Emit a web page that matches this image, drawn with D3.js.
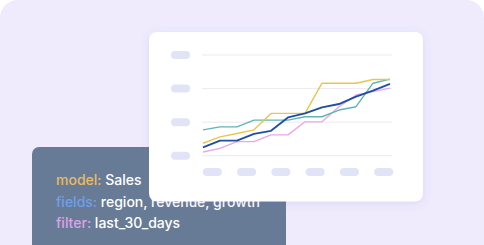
<!DOCTYPE html>
<html lang="en">
<head>
<meta charset="utf-8">
<title>Sales trend card</title>
<script src="https://cdn.jsdelivr.net/npm/d3@7"></script>
<style>
  html, body { margin: 0; padding: 0; background: #fff; }
  svg { display: block; font-family: Inter, "Noto Sans", sans-serif; }
</style>
</head>
<body>
<svg width="484" height="245"></svg>
<script>
// chart values (y units: gridlines at 0 / 100 / 200 / 300)
const points = d3.range(12);
const xTicks = [1, 2, 3, 4, 5, 6];
const yTicks = [0, 100, 200, 300];

const revenue = [37, 56, 66, 77, 126, 126, 126, 216, 216, 216, 227, 227];
const growth  = [77, 86, 86, 106, 106, 106, 116, 116, 136, 146, 216, 228];
const sales   = [25, 45, 45, 65, 74, 114, 126, 144, 154, 176, 194, 214];
const orders  = [11, 22, 42, 42, 62, 62, 101, 101, 146, 181, 191, 201];

const queryLines = [
  { key: "model:", val: "Sales", color: "#e9bb62" },
  { key: "fields:", val: "region, revenue, growth", color: "#6f9fe6" },
  { key: "filter:", val: "last_30_days", color: "#dfa2e6" }
];

const svg = d3.select("svg");

// drop shadow for the white card
const defs = svg.append("defs");
const f = defs.append("filter").attr("id", "shadow")
  .attr("x", "-20%").attr("y", "-20%").attr("width", "140%").attr("height", "140%");
f.append("feDropShadow")
  .attr("dx", 0).attr("dy", 2).attr("stdDeviation", 4)
  .attr("flood-color", "#6b5fc0").attr("flood-opacity", 0.14);

// lavender backdrop
svg.append("rect")
  .attr("x", 0).attr("y", 0).attr("width", 484).attr("height", 300)
  .attr("rx", 18).attr("fill", "#efebfd");

// dark query card
const q = svg.append("g");
q.append("rect")
  .attr("x", 32).attr("y", 147).attr("width", 254).attr("height", 140)
  .attr("rx", 7).attr("fill", "#687b96");

const t = q.selectAll("text").data(queryLines).join("text")
  .attr("x", 56)
  .attr("y", (d, i) => 185 + i * 21.7)
  .attr("font-size", 14)
  .attr("font-weight", 500);
t.append("tspan").attr("fill", d => d.color).text(d => d.key);
t.append("tspan").attr("fill", "#ffffff").text(d => " " + d.val);

// white chart card
svg.append("rect")
  .attr("x", 149).attr("y", 32).attr("width", 274).attr("height", 169.5)
  .attr("rx", 8).attr("fill", "#fff")
  .attr("filter", "url(#shadow)");

const x = d3.scalePoint().domain(points).range([203, 390]);
const y = d3.scaleLinear().domain([0, 300]).range([155.7, 55]);
const xPill = d3.scalePoint().domain(xTicks).range([212.3, 383.7]);

const g = svg.append("g");

g.selectAll(".grid").data(yTicks).join("line")
  .attr("class", "grid")
  .attr("x1", 202).attr("x2", 392)
  .attr("y1", d => y(d)).attr("y2", d => y(d))
  .attr("stroke", "#ebebf0").attr("stroke-width", 1);

// placeholder tick labels
g.selectAll(".ypill").data(yTicks).join("rect")
  .attr("class", "ypill")
  .attr("x", 171).attr("y", d => y(d) - 4)
  .attr("width", 19).attr("height", 8).attr("rx", 4)
  .attr("fill", "#e1e4f7");

g.selectAll(".xpill").data(xTicks).join("rect")
  .attr("class", "xpill")
  .attr("x", d => xPill(d) - 9.5).attr("y", 168)
  .attr("width", 19).attr("height", 8).attr("rx", 4)
  .attr("fill", "#e1e4f7");

const line = d3.line()
  .x((d, i) => x(i))
  .y(d => y(d));

const series = [
  { values: orders, color: "#e9a6ec", w: 1.3 },
  { values: growth, color: "#62b4b6", w: 1.4 },
  { values: revenue, color: "#ebc54d", w: 1.4 },
  { values: sales, color: "#1f4ea6", w: 1.9 }
];

g.selectAll(".series").data(series).join("path")
  .attr("class", "series")
  .attr("fill", "none")
  .attr("stroke", d => d.color)
  .attr("stroke-width", d => d.w)
  .attr("stroke-linejoin", "round")
  .attr("d", d => line(d.values));
</script>
</body>
</html>
